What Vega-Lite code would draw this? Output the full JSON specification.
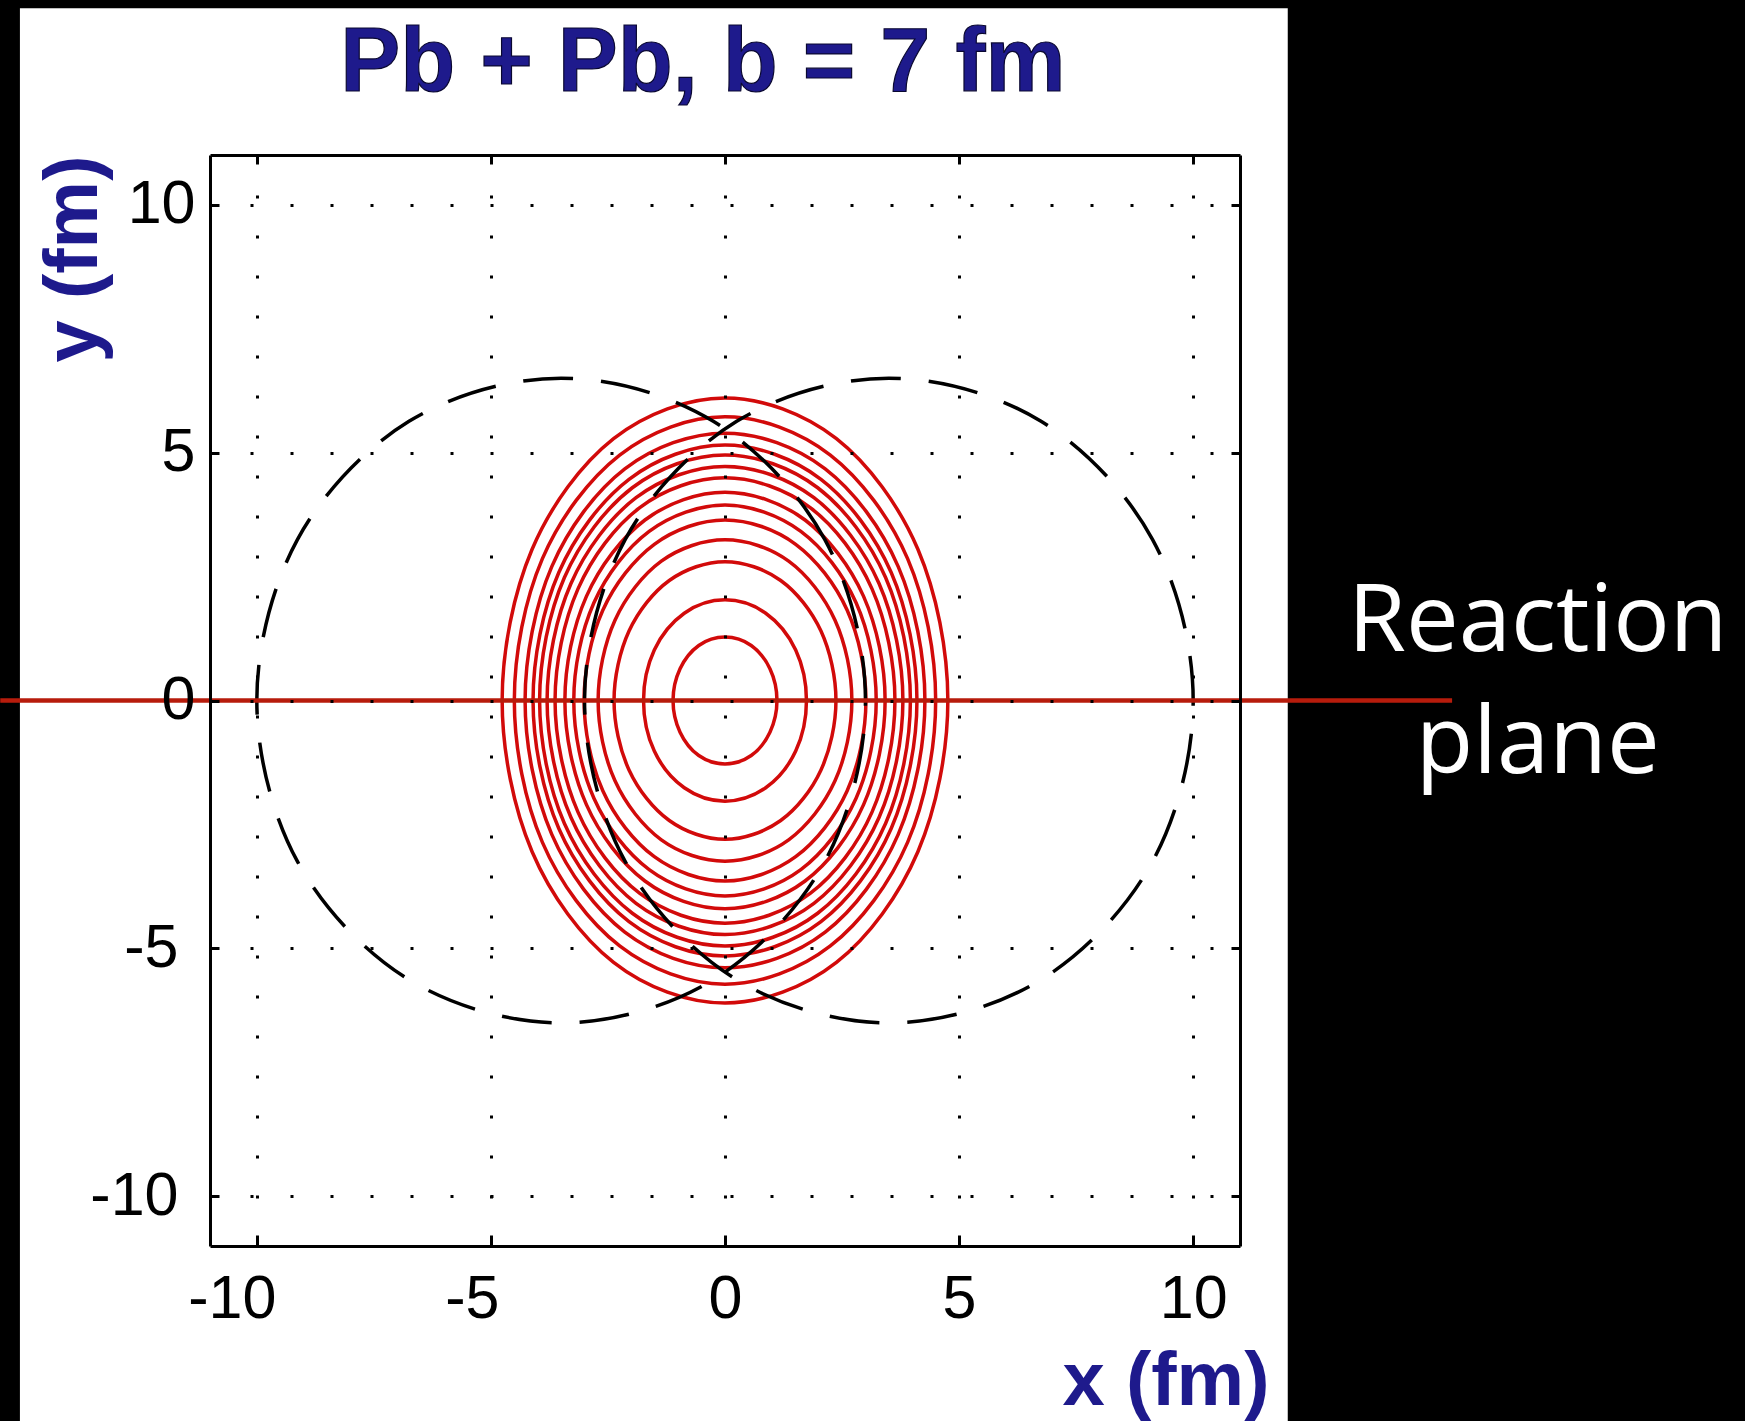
{
"$schema": "https://vega.github.io/schema/vega-lite/v6.json",
"width": 1030, "height": 1091,
"autosize": {"type": "none"},
"padding": {"left": 210, "top": 155, "right": 505, "bottom": 175},
"background": "black",
"config": {"view": {"stroke": null}, "axis": {"zindex": 1}},
"resolve": {"axis": {"x": "independent", "y": "independent"}},
"datasets": {
"contours": [
{"c":1,"i":0,"x":4.76,"y":0},{"c":1,"i":1,"x":4.12,"y":3.05},{"c":1,"i":2,"x":2.38,"y":5.28},{"c":1,"i":3,"x":0,"y":6.10},{"c":1,"i":4,"x":-2.38,"y":5.28},{"c":1,"i":5,"x":-4.12,"y":3.05},{"c":1,"i":6,"x":-4.76,"y":0},{"c":1,"i":7,"x":-4.12,"y":-3.05},{"c":1,"i":8,"x":-2.38,"y":-5.28},{"c":1,"i":9,"x":0,"y":-6.10},{"c":1,"i":10,"x":2.38,"y":-5.28},{"c":1,"i":11,"x":4.12,"y":-3.05},
{"c":2,"i":0,"x":4.50,"y":0},{"c":2,"i":1,"x":3.90,"y":2.86},{"c":2,"i":2,"x":2.25,"y":4.95},{"c":2,"i":3,"x":0,"y":5.72},{"c":2,"i":4,"x":-2.25,"y":4.95},{"c":2,"i":5,"x":-3.90,"y":2.86},{"c":2,"i":6,"x":-4.50,"y":0},{"c":2,"i":7,"x":-3.90,"y":-2.86},{"c":2,"i":8,"x":-2.25,"y":-4.95},{"c":2,"i":9,"x":0,"y":-5.72},{"c":2,"i":10,"x":2.25,"y":-4.95},{"c":2,"i":11,"x":3.90,"y":-2.86},
{"c":3,"i":0,"x":4.27,"y":0},{"c":3,"i":1,"x":3.70,"y":2.70},{"c":3,"i":2,"x":2.14,"y":4.67},{"c":3,"i":3,"x":0,"y":5.39},{"c":3,"i":4,"x":-2.14,"y":4.67},{"c":3,"i":5,"x":-3.70,"y":2.70},{"c":3,"i":6,"x":-4.27,"y":0},{"c":3,"i":7,"x":-3.70,"y":-2.70},{"c":3,"i":8,"x":-2.14,"y":-4.67},{"c":3,"i":9,"x":0,"y":-5.39},{"c":3,"i":10,"x":2.14,"y":-4.67},{"c":3,"i":11,"x":3.70,"y":-2.70},
{"c":4,"i":0,"x":4.10,"y":0},{"c":4,"i":1,"x":3.55,"y":2.58},{"c":4,"i":2,"x":2.05,"y":4.46},{"c":4,"i":3,"x":0,"y":5.15},{"c":4,"i":4,"x":-2.05,"y":4.46},{"c":4,"i":5,"x":-3.55,"y":2.58},{"c":4,"i":6,"x":-4.10,"y":0},{"c":4,"i":7,"x":-3.55,"y":-2.58},{"c":4,"i":8,"x":-2.05,"y":-4.46},{"c":4,"i":9,"x":0,"y":-5.15},{"c":4,"i":10,"x":2.05,"y":-4.46},{"c":4,"i":11,"x":3.55,"y":-2.58},
{"c":5,"i":0,"x":3.96,"y":0},{"c":5,"i":1,"x":3.43,"y":2.48},{"c":5,"i":2,"x":1.98,"y":4.29},{"c":5,"i":3,"x":0,"y":4.95},{"c":5,"i":4,"x":-1.98,"y":4.29},{"c":5,"i":5,"x":-3.43,"y":2.48},{"c":5,"i":6,"x":-3.96,"y":0},{"c":5,"i":7,"x":-3.43,"y":-2.48},{"c":5,"i":8,"x":-1.98,"y":-4.29},{"c":5,"i":9,"x":0,"y":-4.95},{"c":5,"i":10,"x":1.98,"y":-4.29},{"c":5,"i":11,"x":3.43,"y":-2.48},
{"c":6,"i":0,"x":3.80,"y":0},{"c":6,"i":1,"x":3.29,"y":2.36},{"c":6,"i":2,"x":1.90,"y":4.09},{"c":6,"i":3,"x":0,"y":4.72},{"c":6,"i":4,"x":-1.90,"y":4.09},{"c":6,"i":5,"x":-3.29,"y":2.36},{"c":6,"i":6,"x":-3.80,"y":0},{"c":6,"i":7,"x":-3.29,"y":-2.36},{"c":6,"i":8,"x":-1.90,"y":-4.09},{"c":6,"i":9,"x":0,"y":-4.72},{"c":6,"i":10,"x":1.90,"y":-4.09},{"c":6,"i":11,"x":3.29,"y":-2.36},
{"c":7,"i":0,"x":3.63,"y":0},{"c":7,"i":1,"x":3.14,"y":2.25},{"c":7,"i":2,"x":1.82,"y":3.89},{"c":7,"i":3,"x":0,"y":4.49},{"c":7,"i":4,"x":-1.82,"y":3.89},{"c":7,"i":5,"x":-3.14,"y":2.25},{"c":7,"i":6,"x":-3.63,"y":0},{"c":7,"i":7,"x":-3.14,"y":-2.25},{"c":7,"i":8,"x":-1.82,"y":-3.89},{"c":7,"i":9,"x":0,"y":-4.49},{"c":7,"i":10,"x":1.82,"y":-3.89},{"c":7,"i":11,"x":3.14,"y":-2.25},
{"c":8,"i":0,"x":3.42,"y":0},{"c":8,"i":1,"x":2.96,"y":2.10},{"c":8,"i":2,"x":1.71,"y":3.64},{"c":8,"i":3,"x":0,"y":4.20},{"c":8,"i":4,"x":-1.71,"y":3.64},{"c":8,"i":5,"x":-2.96,"y":2.10},{"c":8,"i":6,"x":-3.42,"y":0},{"c":8,"i":7,"x":-2.96,"y":-2.10},{"c":8,"i":8,"x":-1.71,"y":-3.64},{"c":8,"i":9,"x":0,"y":-4.20},{"c":8,"i":10,"x":1.71,"y":-3.64},{"c":8,"i":11,"x":2.96,"y":-2.10},
{"c":9,"i":0,"x":3.23,"y":0},{"c":9,"i":1,"x":2.80,"y":1.97},{"c":9,"i":2,"x":1.62,"y":3.41},{"c":9,"i":3,"x":0,"y":3.94},{"c":9,"i":4,"x":-1.62,"y":3.41},{"c":9,"i":5,"x":-2.80,"y":1.97},{"c":9,"i":6,"x":-3.23,"y":0},{"c":9,"i":7,"x":-2.80,"y":-1.97},{"c":9,"i":8,"x":-1.62,"y":-3.41},{"c":9,"i":9,"x":0,"y":-3.94},{"c":9,"i":10,"x":1.62,"y":-3.41},{"c":9,"i":11,"x":2.80,"y":-1.97},
{"c":10,"i":0,"x":3.01,"y":0},{"c":10,"i":1,"x":2.61,"y":1.82},{"c":10,"i":2,"x":1.51,"y":3.15},{"c":10,"i":3,"x":0,"y":3.64},{"c":10,"i":4,"x":-1.51,"y":3.15},{"c":10,"i":5,"x":-2.61,"y":1.82},{"c":10,"i":6,"x":-3.01,"y":0},{"c":10,"i":7,"x":-2.61,"y":-1.82},{"c":10,"i":8,"x":-1.51,"y":-3.15},{"c":10,"i":9,"x":0,"y":-3.64},{"c":10,"i":10,"x":1.51,"y":-3.15},{"c":10,"i":11,"x":2.61,"y":-1.82},
{"c":11,"i":0,"x":2.71,"y":0},{"c":11,"i":1,"x":2.35,"y":1.62},{"c":11,"i":2,"x":1.36,"y":2.81},{"c":11,"i":3,"x":0,"y":3.24},{"c":11,"i":4,"x":-1.36,"y":2.81},{"c":11,"i":5,"x":-2.35,"y":1.62},{"c":11,"i":6,"x":-2.71,"y":0},{"c":11,"i":7,"x":-2.35,"y":-1.62},{"c":11,"i":8,"x":-1.36,"y":-2.81},{"c":11,"i":9,"x":0,"y":-3.24},{"c":11,"i":10,"x":1.36,"y":-2.81},{"c":11,"i":11,"x":2.35,"y":-1.62},
{"c":12,"i":0,"x":2.37,"y":0},{"c":12,"i":1,"x":2.05,"y":1.40},{"c":12,"i":2,"x":1.19,"y":2.42},{"c":12,"i":3,"x":0,"y":2.80},{"c":12,"i":4,"x":-1.19,"y":2.42},{"c":12,"i":5,"x":-2.05,"y":1.40},{"c":12,"i":6,"x":-2.37,"y":0},{"c":12,"i":7,"x":-2.05,"y":-1.40},{"c":12,"i":8,"x":-1.19,"y":-2.42},{"c":12,"i":9,"x":0,"y":-2.80},{"c":12,"i":10,"x":1.19,"y":-2.42},{"c":12,"i":11,"x":2.05,"y":-1.40},
{"c":13,"i":0,"x":1.74,"y":0},{"c":13,"i":1,"x":1.51,"y":1.02},{"c":13,"i":2,"x":0.87,"y":1.76},{"c":13,"i":3,"x":0,"y":2.03},{"c":13,"i":4,"x":-0.87,"y":1.76},{"c":13,"i":5,"x":-1.51,"y":1.02},{"c":13,"i":6,"x":-1.74,"y":0},{"c":13,"i":7,"x":-1.51,"y":-1.02},{"c":13,"i":8,"x":-0.87,"y":-1.76},{"c":13,"i":9,"x":0,"y":-2.03},{"c":13,"i":10,"x":0.87,"y":-1.76},{"c":13,"i":11,"x":1.51,"y":-1.02},
{"c":14,"i":0,"x":1.11,"y":0},{"c":14,"i":1,"x":0.96,"y":0.64},{"c":14,"i":2,"x":0.56,"y":1.11},{"c":14,"i":3,"x":0,"y":1.28},{"c":14,"i":4,"x":-0.56,"y":1.11},{"c":14,"i":5,"x":-0.96,"y":0.64},{"c":14,"i":6,"x":-1.11,"y":0},{"c":14,"i":7,"x":-0.96,"y":-0.64},{"c":14,"i":8,"x":-0.56,"y":-1.11},{"c":14,"i":9,"x":0,"y":-1.28},{"c":14,"i":10,"x":0.56,"y":-1.11},{"c":14,"i":11,"x":0.96,"y":-0.64}
],
"nuclei": [
{"n":"left","i":0,"x":3.0,"y":0},{"n":"left","i":1,"x":2.13,"y":3.25},{"n":"left","i":2,"x":-0.25,"y":5.63},{"n":"left","i":3,"x":-3.5,"y":6.5},{"n":"left","i":4,"x":-6.75,"y":5.63},{"n":"left","i":5,"x":-9.13,"y":3.25},{"n":"left","i":6,"x":-10.0,"y":0},{"n":"left","i":7,"x":-9.13,"y":-3.25},{"n":"left","i":8,"x":-6.75,"y":-5.63},{"n":"left","i":9,"x":-3.5,"y":-6.5},{"n":"left","i":10,"x":-0.25,"y":-5.63},{"n":"left","i":11,"x":2.13,"y":-3.25},
{"n":"right","i":0,"x":10.0,"y":0},{"n":"right","i":1,"x":9.13,"y":3.25},{"n":"right","i":2,"x":6.75,"y":5.63},{"n":"right","i":3,"x":3.5,"y":6.5},{"n":"right","i":4,"x":0.25,"y":5.63},{"n":"right","i":5,"x":-2.13,"y":3.25},{"n":"right","i":6,"x":-3.0,"y":0},{"n":"right","i":7,"x":-2.13,"y":-3.25},{"n":"right","i":8,"x":0.25,"y":-5.63},{"n":"right","i":9,"x":3.5,"y":-6.5},{"n":"right","i":10,"x":6.75,"y":-5.63},{"n":"right","i":11,"x":9.13,"y":-3.25}
]
},
"layer": [
{
"data": {"values": [{}]},
"mark": {"type": "rect", "fill": "white", "clip": false},
"encoding": {
"x": {"datum": -15.06, "type": "quantitative", "scale": {"domain": [-11, 11], "nice": false, "zero": false}, "axis": null},
"x2": {"datum": 12.02},
"y": {"datum": 13.96, "type": "quantitative", "scale": {"domain": [-11, 11], "nice": false, "zero": false}, "axis": null},
"y2": {"datum": -14.6}
}
},
{
"data": {"name": "contours"},
"mark": {"type": "line", "interpolate": "cardinal-closed", "stroke": "#d20a0a", "strokeWidth": 3.5, "clip": true},
"encoding": {
"x": {"field": "x", "type": "quantitative", "scale": {"domain": [-11, 11], "nice": false, "zero": false},
 "axis": {"zindex": 2, "orient": "bottom", "values": [-10, -5, 0, 5, 10], "labelExpr": "'' + datum.value", "grid": true, "gridColor": "black", "gridDash": [3, 37], "gridWidth": 3, "gridOpacity": 1, "domain": true, "domainColor": "black", "domainWidth": 3, "ticks": true, "tickColor": "black", "tickWidth": 3, "tickSize": -9, "labelFont": "Liberation Sans", "labelFontSize": 61, "labelColor": "black", "labelPadding": 32, "labelFlush": false, "labelAngle": 0, "labelBaseline": "top", "labelAlign": "center",
 "labelOffset": {"condition": [{"test": "datum.value == -10", "value": -25}, {"test": "datum.value == -5", "value": -19}], "value": 0},
 "title": "x (fm)", "titleFont": "Liberation Sans", "titleFontSize": 76, "titleFontWeight": "bold", "titleColor": "#1e1a8c", "titleAlign": "right", "titleAnchor": "end", "titleBaseline": "alphabetic", "titleX": 1059, "titleY": 158}},
"y": {"field": "y", "type": "quantitative", "scale": {"domain": [-11, 11], "nice": false, "zero": false},
 "axis": {"zindex": 2, "orient": "left", "values": [-10, -5, 0, 5, 10], "labelExpr": "'' + datum.value", "grid": true, "gridColor": "black", "gridDash": [3, 37], "gridWidth": 3, "gridOpacity": 1, "domain": true, "domainColor": "black", "domainWidth": 3, "ticks": true, "tickColor": "black", "tickWidth": 3, "tickSize": -9, "labelFont": "Liberation Sans", "labelFontSize": 61, "labelColor": "black",
 "labelPadding": {"condition": {"test": "datum.value < 0", "value": 41}, "value": 24},
 "labelFlush": false, "labelAngle": 0, "labelBaseline": "middle", "labelAlign": "right", "title": "y (fm)", "titleFont": "Liberation Sans", "titleFontSize": 76, "titleFontWeight": "bold", "titleColor": "#1e1a8c", "titleAngle": 270, "titleAlign": "right", "titleAnchor": "end", "titleBaseline": "alphabetic", "titleX": -114, "titleY": 0}},
"detail": {"field": "c", "type": "nominal"},
"order": {"field": "i", "type": "quantitative"}
}
},
{
"data": {"name": "nuclei"},
"mark": {"type": "line", "interpolate": "cardinal-closed", "stroke": "black", "strokeWidth": 3.5, "strokeDash": [50, 28], "clip": true},
"encoding": {
"x": {"field": "x", "type": "quantitative", "scale": {"domain": [-11, 11], "nice": false, "zero": false},
 "axis": {"zindex": 2, "orient": "top", "values": [-10, -5, 0, 5, 10], "grid": false, "labels": false, "domain": true, "domainColor": "black", "domainWidth": 3, "ticks": true, "tickColor": "black", "tickWidth": 3, "tickSize": -9, "title": null}},
"y": {"field": "y", "type": "quantitative", "scale": {"domain": [-11, 11], "nice": false, "zero": false},
 "axis": {"zindex": 2, "orient": "right", "values": [-10, -5, 0, 5, 10], "grid": false, "labels": false, "domain": true, "domainColor": "black", "domainWidth": 3, "ticks": true, "tickColor": "black", "tickWidth": 3, "tickSize": -9, "title": null}},
"detail": {"field": "n", "type": "nominal"},
"order": {"field": "i", "type": "quantitative"}
}
},
{
"data": {"values": [{}]},
"mark": {"type": "rule", "stroke": "#b71c0c", "strokeWidth": 4.5, "clip": false},
"encoding": {
"x": {"datum": -15.48, "type": "quantitative", "axis": null},
"x2": {"datum": 15.53},
"y": {"datum": 0, "type": "quantitative", "axis": null}
}
},
{
"data": {"values": [{"label": "Reaction plane"}]},
"mark": {"type": "text", "font": "Open Sans", "fontSize": 94, "color": "white", "align": "center", "baseline": "alphabetic", "lineBreak": " ", "lineHeight": 122, "clip": false},
"encoding": {
"text": {"field": "label"},
"x": {"datum": 17.36, "type": "quantitative", "axis": null},
"y": {"datum": 1.0, "type": "quantitative", "axis": null}
}
},
{
"data": {"values": [{"title": "Pb + Pb, b = 7 fm"}]},
"mark": {"type": "text", "font": "Liberation Sans", "fontSize": 90, "fontWeight": "bold", "fill": "#1e1a8c", "stroke": "#0a0830", "strokeWidth": 1.2, "align": "center", "baseline": "alphabetic", "clip": false},
"encoding": {
"text": {"field": "title"},
"x": {"datum": -0.474, "type": "quantitative", "axis": null},
"y": {"datum": 12.29, "type": "quantitative", "axis": null}
}
}
]
}
